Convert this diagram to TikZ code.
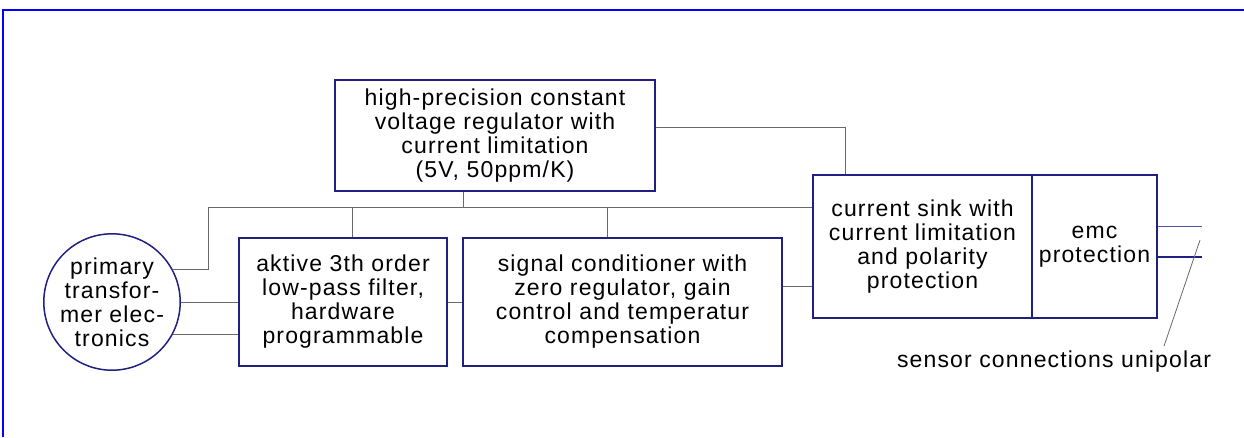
\documentclass[tikz,border=0pt]{standalone}
\usepackage{fontspec}
\setmainfont{Liberation Sans}[LetterSpace=5]
\begin{document}
\begin{tikzpicture}[x=1pt,y=-1pt,
  box/.style={draw=navy,line width=1.8pt,rectangle,inner sep=0pt,align=center,
    font=\fontsize{23}{24}\selectfont},
  circ/.style={draw=navy,line width=1.5pt,circle,inner sep=0pt,align=center,
    minimum size=136pt,font=\fontsize{23}{24}\selectfont},
  conn/.style={draw=wire,line width=1pt},
  lab/.style={inner sep=0pt,font=\fontsize{23}{24}\selectfont}]
\definecolor{navy}{RGB}{32,32,130}
\definecolor{wire}{RGB}{105,105,105}
\definecolor{thinblue}{RGB}{80,80,170}
\useasboundingbox (0,0) rectangle (1244,437);
% frame
\draw[blue,line width=2.2pt] (3,10) -- (1244,10);
\draw[blue,line width=1.2pt] (3,9) -- (3,437);
% nodes
\node[box,minimum width=320pt,minimum height=111pt] (top) at (495,135.5)
  {high-precision constant\\voltage regulator with\\current limitation\\(5V, 50ppm/K)};
\node[box,minimum width=208pt,minimum height=128pt] (filt) at (343,302)
  {aktive 3th order\\low-pass filter,\\hardware\\programmable};
\node[box,minimum width=319pt,minimum height=128pt] (sig) at (622.5,302)
  {signal conditioner with\\zero regulator, gain\\control and temperatur\\compensation};
\node[box,minimum width=219pt,minimum height=143pt] (sink) at (922.5,246.5)
  {current sink with\\current limitation\\and polarity\\protection};
\node[box,minimum width=125pt,minimum height=143pt] (emc) at (1094.5,246.5)
  {emc\\protection};
\node[circ] (prim) at (112,302) {primary\\transfor-\\mer elec-\\tronics};
\node[lab] (sens) at (1054,362) {sensor connections unipolar};
% connectors
\coordinate (bus) at (208,207);
\draw[conn] ([yshift=8.5pt]top.east) -| ([xshift=-77.5pt]sink.north);
\draw[conn] (prim.28) -| (bus) -- (bus -| sink.west);
\draw[conn] ([xshift=9pt]filt.north) -- ([xshift=9pt]filt.north |- bus);
\draw[conn] ([xshift=-32pt]top.south) -- ([xshift=-32pt]top.south |- bus);
\draw[conn] ([xshift=-15.5pt]sig.north) -- ([xshift=-15.5pt]sig.north |- bus);
\draw[conn] (prim.east) -- (filt.west);
\draw[conn] (prim.-28) -- (prim.-28 -| filt.west);
\draw[conn] (filt.east) -- (sig.west);
\draw[conn] ([yshift=16pt]sig.east) -- ([yshift=16pt]sig.east -| sink.west);
\coordinate (outA) at (1202,226);
\coordinate (outB) at (1202,257);
\coordinate (tip) at (1200,240);
\draw[thinblue,line width=1pt] (emc.east |- outA) -- (outA);
\draw[navy,line width=1.8pt] (emc.east |- outB) -- (outB);
\draw[wire,line width=0.8pt] ([xshift=110pt,yshift=5pt]sens.north) -- (tip);
\end{tikzpicture}
\end{document}
